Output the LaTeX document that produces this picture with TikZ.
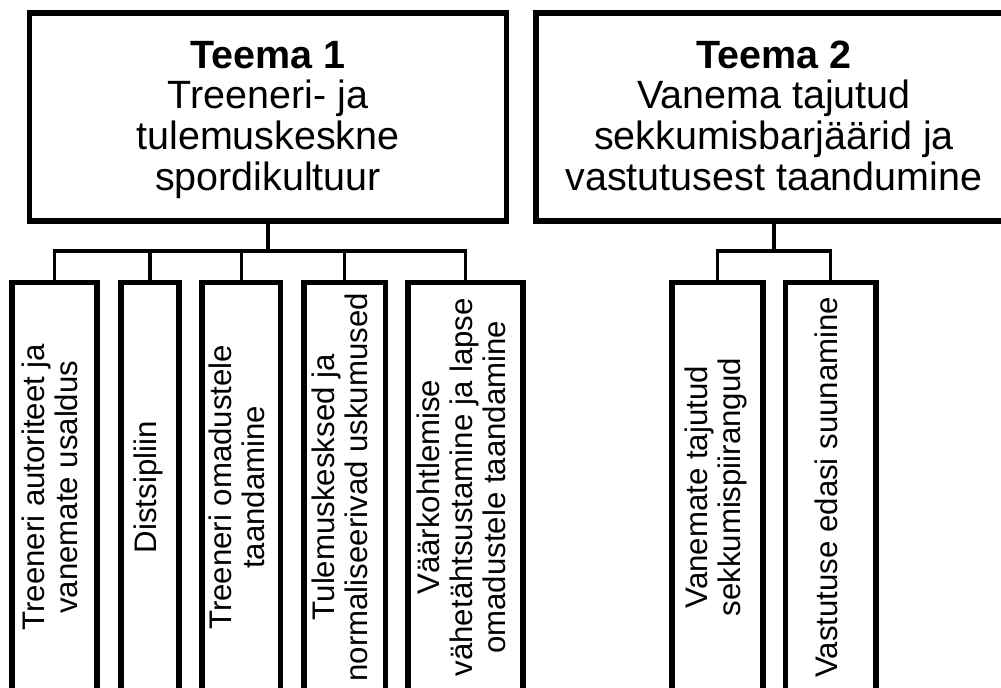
\documentclass[tikz,border=0pt]{standalone}
\usepackage{fontspec}
\setmainfont{Liberation Sans}
\usepackage{graphicx}
\begin{document}
\begin{tikzpicture}[x=0.75pt,y=-0.75pt,
  topbox/.style={draw, line width=4.1pt, inner sep=0pt, align=center,
    minimum height=208*0.75pt, font=\fontsize{29.6}{30.2}\selectfont},
  subbox/.style={draw, line width=4.1pt, inner sep=0pt,
    minimum height=409.5*0.75pt, font=\fontsize{23.4}{24.8}\selectfont},
  conn/.style={line width=2.6pt}]
\useasboundingbox (0,0) rectangle (1001,688);
\clip (0,0) rectangle (1001,688);
\fill[white] (0,0) rectangle (1001,688);

% top boxes
\node[topbox, minimum width=477*0.75pt] (t1) at (268,117)
  {\raisebox{-3pt}[\height][\depth]{\begin{tabular}{@{}c@{}}\textbf{Teema 1}\\Treeneri- ja\\tulemuskeskne\\spordikultuur\end{tabular}}};
\node[topbox, minimum width=476*0.75pt] (t2) at (774,117)
  {\raisebox{-3pt}[\height][\depth]{\begin{tabular}{@{}c@{}}\textbf{Teema 2}\\Vanema tajutud\\sekkumisbarjäärid ja\\vastutusest taandumine\end{tabular}}};

% sub boxes
\node[subbox, minimum width=85*0.75pt] (c1) at (54.5,487.25)
  {\rotatebox{90}{\begin{tabular}{@{}c@{}}Treeneri autoriteet ja\\vanemate usaldus\end{tabular}}};
\node[subbox, minimum width=58*0.75pt] (c2) at (150,487.25)
  {\rotatebox{90}{\begin{tabular}{@{}c@{}}Distsipliin\end{tabular}}};
\node[subbox, minimum width=78.5*0.75pt] (c3) at (241.25,487.25)
  {\rotatebox{90}{\begin{tabular}{@{}c@{}}Treeneri omadustele\\taandamine\end{tabular}}};
\node[subbox, minimum width=81.5*0.75pt] (c4) at (344.75,487.25)
  {\rotatebox{90}{\begin{tabular}{@{}c@{}}Tulemuskesksed ja\\normaliseerivad uskumused\end{tabular}}};
\node[subbox, minimum width=115*0.75pt] (c5) at (465.5,487.25)
  {\rotatebox{90}{\begin{tabular}{@{}c@{}}Väärkohtlemise\\vähetähtsustamine ja lapse\\omadustele taandamine\end{tabular}}};
\node[subbox, minimum width=91*0.75pt] (c6) at (717.5,487.25)
  {\rotatebox{90}{\begin{tabular}{@{}c@{}}Vanemate tajutud\\sekkumispiirangud\end{tabular}}};
\node[subbox, minimum width=90.5*0.75pt] (c7) at (830.75,487.25)
  {\rotatebox{90}{\begin{tabular}{@{}c@{}}Vastutuse edasi suunamine\end{tabular}}};

% connectors
\coordinate (b1) at (268,251);
\coordinate (b2) at (774,251);
\draw[conn] (t1.south) -- (b1);
\draw[conn] (t2.south) -- (b2);
\foreach \c in {c1,c2,c3,c4,c5}
  \draw[conn] (\c.north) |- (b1);
\foreach \c in {c6,c7}
  \draw[conn] (\c.north) |- (b2);
\end{tikzpicture}
\end{document}
